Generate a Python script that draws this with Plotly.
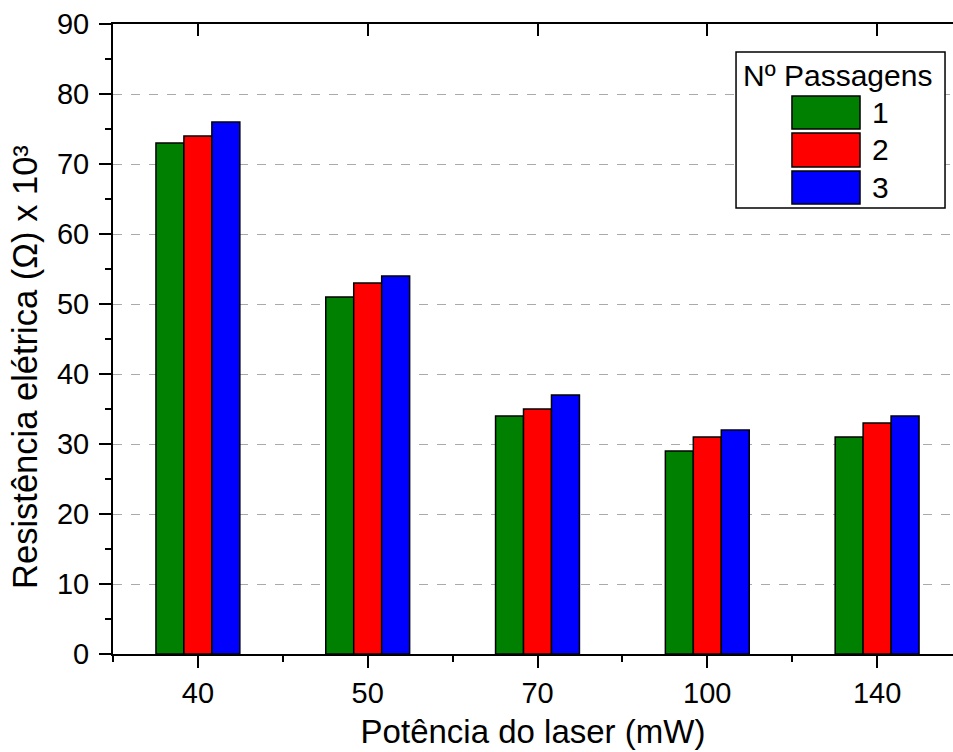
import plotly.graph_objects as go

powers = ["40", "50", "70", "100", "140"]
pass1 = [73, 51, 34, 29, 31]
pass2 = [74, 53, 35, 31, 33]
pass3 = [76, 54, 37, 32, 34]
series_names = ["1", "2", "3"]
colors = ["#008000", "#ff0000", "#0000ff"]

xpos = list(range(len(powers)))
minor_pos = [i - 0.5 for i in range(len(powers) + 1)]

fig = go.Figure()
for name, vals, col in zip(series_names, [pass1, pass2, pass3], colors):
    fig.add_trace(go.Bar(x=xpos, y=vals, name=name, marker=dict(color=col, line=dict(color="black", width=1.5)),
                         showlegend=False))

font_family = "Liberation Sans, Arial, sans-serif"
xr = [-0.5, 4.447]

fig.update_layout(
    width=953, height=752,
    margin=dict(l=113, r=0, t=24, b=98, autoexpand=False),
    paper_bgcolor="white", plot_bgcolor="white",
    barmode="group", bargap=0.506, bargroupgap=0,
    font=dict(family=font_family, color="black"),
    xaxis=dict(range=xr, tickmode="array", tickvals=xpos, ticktext=powers,
               ticks="outside", ticklen=12, tickwidth=2, tickcolor="black",
               showline=True, linewidth=2, linecolor="black", showgrid=False, zeroline=False,
               tickfont=dict(size=29),
               minor=dict(tickmode="array", tickvals=minor_pos, ticks="outside", ticklen=6, tickwidth=2, tickcolor="black"),
               title=dict(text="Potência do laser (mW)", font=dict(size=33), standoff=12)),
    xaxis2=dict(range=xr, overlaying="x", side="top", tickmode="array", tickvals=xpos,
                ticks="inside", ticklen=12, tickwidth=2, tickcolor="black", showticklabels=False,
                showline=True, linewidth=2, linecolor="black", showgrid=False, zeroline=False),
    yaxis=dict(range=[0, 90], dtick=10, tick0=0, ticks="outside", ticklen=12, tickwidth=2, tickcolor="black",
               showline=True, linewidth=2, linecolor="black", zeroline=False,
               showgrid=True, gridcolor="#aaaaaa", gridwidth=1, griddash="dash",
               tickfont=dict(size=29), ticklabelstandoff=4,
               minor=dict(dtick=5, ticks="outside", ticklen=6, tickwidth=2, tickcolor="black", showgrid=False)),
)
# dummy trace to activate top axis
fig.add_trace(go.Scatter(x=[xr[0]], y=[0], xaxis="x2", mode="markers", marker=dict(opacity=0), showlegend=False, hoverinfo="skip"))

# y-axis title
fig.add_annotation(xref="paper", yref="paper", x=-0.1048, y=0.4556, text="Resistência elétrica (Ω) x 10³",
                   textangle=-90, showarrow=False, xanchor="center", yanchor="middle",
                   font=dict(size=34.5, family=font_family, color="black"))

# custom legend
fig.add_shape(type="rect", xref="paper", yref="paper", x0=0.7417, x1=0.9905, y0=0.708, y1=0.9556,
              line=dict(color="black", width=1.5), fillcolor="white", layer="above")
fig.add_annotation(xref="paper", yref="paper", x=0.8625, y=0.919, text="Nº Passagens", showarrow=False,
                   font=dict(size=30, family=font_family, color="black"), xanchor="center", yanchor="middle")
rows = [(0.8333, 0.8857, 0.8603), (0.7730, 0.8270, 0.8), (0.7143, 0.7667, 0.7397)]
for (y0, y1, yc), name, col in zip(rows, series_names, colors):
    fig.add_shape(type="rect", xref="paper", yref="paper", x0=0.8083, x1=0.8893, y0=y0, y1=y1,
                  line=dict(color="black", width=1.5), fillcolor=col, layer="above")
    fig.add_annotation(xref="paper", yref="paper", x=0.901, y=yc, text=name, showarrow=False,
                       font=dict(size=30, family=font_family, color="black"), xanchor="left", yanchor="middle")

fig.write_html("out.html")
